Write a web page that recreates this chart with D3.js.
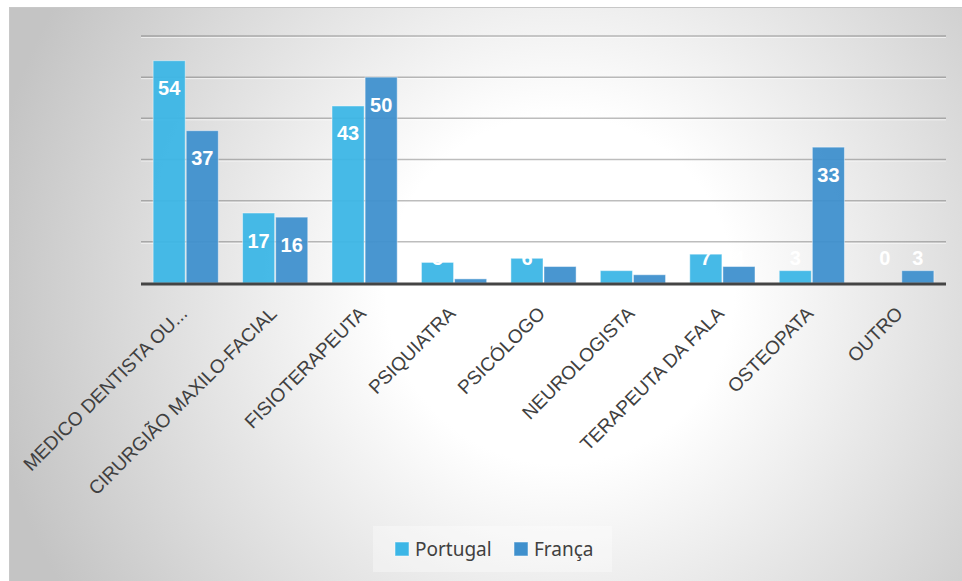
<!DOCTYPE html>
<html>
<head>
<meta charset="utf-8">
<script src="https://cdn.jsdelivr.net/npm/d3@7"></script>
<style>
  body { margin: 0; background: #fff; }
  svg { display: block; }
</style>
</head>
<body>
<div id="chart"></div>
<script>
// chart data
var categories = ["MEDICO DENTISTA OU...", "CIRURGIÃO MAXILO-FACIAL", "FISIOTERAPEUTA",
                  "PSIQUIATRA", "PSICÓLOGO", "NEUROLOGISTA", "TERAPEUTA DA FALA",
                  "OSTEOPATA", "OUTRO"];
var seriesNames = ["Portugal", "França"];
var portugalValues = [54, 17, 43, 5, 6, 3, 7, 3, 0];
var francaValues = [37, 16, 50, 1, 4, 2, 4, 33, 3];
var gridTicks = [10, 20, 30, 40, 50, 60];

var colours = { "Portugal": "#3cb6e6", "França": "#3f90cd" };

var width = 962, height = 581;
var plot = { left: 141, right: 946, top: 36, bottom: 283 };

var svg = d3.select("#chart").append("svg")
       .attr("width", width)
       .attr("height", height);

// background gradient
var defs = svg.append("defs");
var grad = defs.append("radialGradient")
       .attr("id", "bg")
       .attr("gradientUnits", "userSpaceOnUse")
       .attr("cx", 560).attr("cy", 290).attr("r", 580);
grad.append("stop").attr("offset", "0").attr("stop-color", "#ffffff");
grad.append("stop").attr("offset", "0.3").attr("stop-color", "#ffffff");
grad.append("stop").attr("offset", "1").attr("stop-color", "#c4c4c4");

svg.append("rect")
       .attr("x", 9.5).attr("y", 7.5)
       .attr("width", width - 9).attr("height", height - 7)
       .style("fill", "url(#bg)")
       .style("stroke", "#c8c8c8")
       .style("stroke-width", 1);

// scales
var x = d3.scaleBand()
       .domain(categories)
       .range([plot.left, plot.right])
       .paddingInner(0.26)
       .paddingOuter(0.13);

var xs = d3.scaleBand()
       .domain(seriesNames)
       .range([0, x.bandwidth()]);

var y = d3.scaleLinear()
       .domain([0, 60])
       .range([plot.bottom, plot.top]);

// gridlines
var grid = svg.append("g");
grid.selectAll("line.light")
       .data(gridTicks)
       .enter().append("line")
       .attr("x1", plot.left).attr("x2", plot.right)
       .attr("y1", d => y(d) + 1.5).attr("y2", d => y(d) + 1.5)
       .style("stroke", "rgba(255,255,255,0.6)")
       .style("stroke-width", 1);
grid.selectAll("line.dark")
       .data(gridTicks)
       .enter().append("line")
       .attr("x1", plot.left).attr("x2", plot.right)
       .attr("y1", d => y(d)).attr("y2", d => y(d))
       .style("stroke", "rgba(90,90,90,0.4)")
       .style("stroke-width", 1.5);

// bars
var rows = categories.map((c, i) => ({
       cat: c,
       values: [{ s: "Portugal", v: portugalValues[i] }, { s: "França", v: francaValues[i] }]
}));

var groups = svg.append("g").selectAll("g")
       .data(rows)
       .enter().append("g")
       .attr("transform", d => "translate(" + x(d.cat) + ",0)");

groups.selectAll("rect")
       .data(d => d.values)
       .enter().append("rect")
       .attr("x", d => xs(d.s) + 0.5)
       .attr("y", d => y(d.v))
       .attr("width", xs.bandwidth() - 1)
       .attr("height", d => y(0) - y(d.v))
       .style("fill", d => colours[d.s])
       .style("fill-opacity", 0.95)
       .style("stroke", "rgba(255,255,255,0.45)")
       .style("stroke-width", 1);

// data labels (inside end, white)
groups.selectAll("text")
       .data(d => d.values)
       .enter().append("text")
       .attr("x", d => xs(d.s) + xs.bandwidth() / 2)
       .attr("y", d => Math.min(y(d.v) + 34.5, y(0) - 18.5))
       .attr("text-anchor", "middle")
       .style("font-family", "'Liberation Sans', Arial, sans-serif")
       .style("font-weight", "bold")
       .style("font-size", "20px")
       .style("fill", "#ffffff")
       .text(d => d.v);

// axis baseline
svg.append("line")
       .attr("x1", plot.left).attr("x2", plot.right)
       .attr("y1", y(0) + 1).attr("y2", y(0) + 1)
       .style("stroke", "#444")
       .style("stroke-width", 3);

// category labels
svg.append("g").selectAll("text")
       .data(categories)
       .enter().append("text")
       .attr("transform", d => "translate(" + (x(d) + x.bandwidth() / 2 - 2) + "," + 310 + ") rotate(-45)")
       .attr("text-anchor", "end")
       .attr("dy", "0.35em")
       .style("font-family", "'Liberation Sans', Arial, sans-serif")
       .style("font-size", "19px")
       .style("fill", "#404040")
       .text(d => d);

// legend
var legend = svg.append("g");
legend.append("rect")
       .attr("x", 373).attr("y", 526)
       .attr("width", 239).attr("height", 46)
       .style("fill", "rgba(255,255,255,0.35)");

var legendItems = [{ s: "Portugal", x: 395 }, { s: "França", x: 514 }];
legend.selectAll("rect.sw")
       .data(legendItems)
       .enter().append("rect")
       .attr("x", d => d.x).attr("y", 542)
       .attr("width", 14).attr("height", 14)
       .style("fill", d => colours[d.s])
       .style("stroke", "rgba(255,255,255,0.5)");
legend.selectAll("text")
       .data(legendItems)
       .enter().append("text")
       .attr("x", d => d.x + 20)
       .attr("y", 556)
       .style("font-family", "'Noto Sans', sans-serif")
       .style("font-size", "19px")
       .style("fill", "#404040")
       .text(d => d.s);
</script>
</body>
</html>
